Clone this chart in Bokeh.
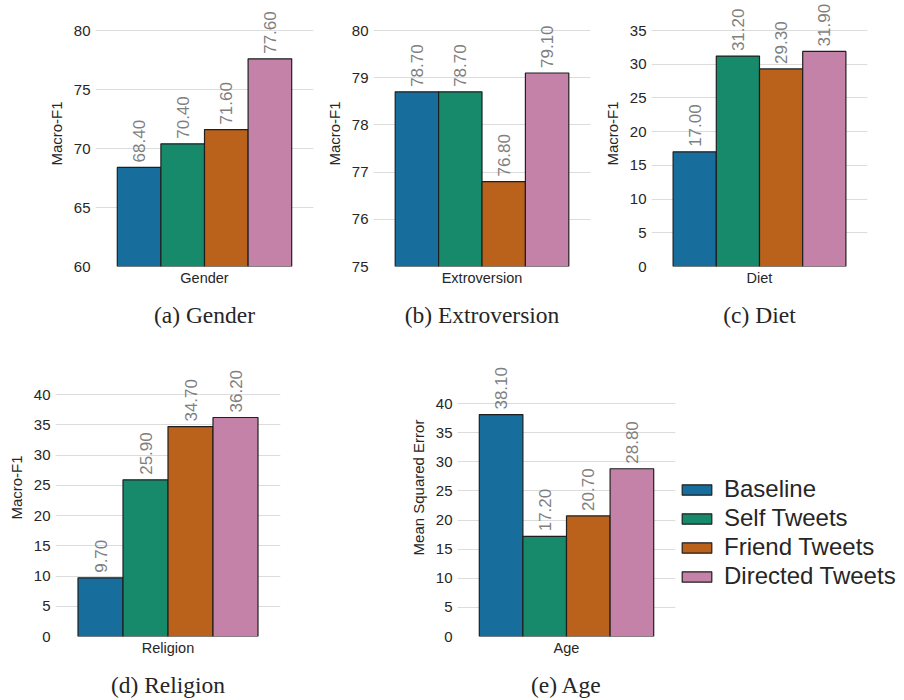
import math
from bokeh.plotting import figure
from bokeh.models import (ColumnDataSource, FactorRange, Range1d, FixedTicker,
                          Legend, LegendItem)
from bokeh.layouts import column, row
from bokeh.transform import dodge
from bokeh.embed import file_html
from bokeh.resources import INLINE

# ---------------- data ----------------
categories = ["Gender", "Extroversion", "Diet", "Religion", "Age"]
captions = ["(a) Gender", "(b) Extroversion", "(c) Diet", "(d) Religion", "(e) Age"]
y_labels = ["Macro-F1", "Macro-F1", "Macro-F1", "Macro-F1", "Mean Squared Error"]
series_names = ["Baseline", "Self Tweets", "Friend Tweets", "Directed Tweets"]
baseline = [68.4, 78.7, 17.0, 9.7, 38.1]
self_tweets = [70.4, 78.7, 31.2, 25.9, 17.2]
friend_tweets = [71.6, 76.8, 29.3, 34.7, 20.7]
directed_tweets = [77.6, 79.1, 31.9, 36.2, 28.8]
y_ticks = [
    [60, 65, 70, 75, 80],
    [75, 76, 77, 78, 79, 80],
    [0, 5, 10, 15, 20, 25, 30, 35],
    [0, 5, 10, 15, 20, 25, 30, 35, 40],
    [0, 5, 10, 15, 20, 25, 30, 35, 40],
]

# ---------------- style ----------------
COLORS = ["#176d9c", "#168a6a", "#ba611b", "#c482a8"]
EDGE = "#1f1f1f"
TEXT = "#262626"
GRID = "#dcdcdc"
SANS = "Liberation Sans"
SERIF = "Liberation Serif"

# width, height, left, right, bottom, gap from frame top to top tick
specs = [
    (322, 338, 95, 9, 72, 30),
    (278, 338, 50, 10, 72, 30),
    (304, 338, 48, 37, 72, 30),
    (300, 362, 55, 20, 64, 56),
    (378, 362, 157, 3, 64, 65),
]


def style_axes(p):
    for ax in (p.xaxis[0], p.yaxis[0]):
        ax.axis_line_color = None
        ax.major_tick_line_color = None
        ax.minor_tick_line_color = None
        ax.major_tick_out = 0
        ax.major_tick_in = 0
        ax.minor_tick_out = 0
        ax.minor_tick_in = 0
        ax.major_label_text_color = TEXT
        ax.major_label_text_font = SANS
        ax.axis_label_text_color = TEXT
        ax.axis_label_text_font_style = "normal"


def make_panel(i):
    W, H, L, R, B, gap = specs[i]
    cat = categories[i]
    vals = [baseline[i], self_tweets[i], friend_tweets[i], directed_tweets[i]]
    ticks = y_ticks[i]
    vb, vt = ticks[0], ticks[-1]
    fh = H - B
    s = (fh - gap) / (vt - vb)
    end = vt + gap / s
    p = figure(x_range=FactorRange(factors=[cat], range_padding=0),
               y_range=Range1d(vb, end), width=W, height=H,
               output_backend="svg", toolbar_location=None,
               min_border_left=L, min_border_right=R, min_border_bottom=B,
               min_border_top=0)
    data = {"cat": [cat]}
    for k in range(4):
        data[f"v{k}"] = [vals[k]]
        data[f"t{k}"] = [f"{vals[k]:.2f}"]
    src = ColumnDataSource(data)
    for k in range(4):
        off = (k - 1.5) * 0.2
        p.vbar(x=dodge("cat", off, range=p.x_range), top=f"v{k}", bottom=vb,
               width=0.2, source=src, fill_color=COLORS[k],
               line_color=EDGE, line_width=1.2)
    for k in range(4):
        off = (k - 1.5) * 0.2
        p.text(x=dodge("cat", off, range=p.x_range), y=f"v{k}", text=f"t{k}",
               source=src, angle=math.pi / 2, text_align="left",
               text_baseline="middle", y_offset=-5, text_color="#7f7f7f",
               text_font_size="17px", text_font={"value": SANS})
    p.outline_line_color = None
    p.xgrid.grid_line_color = None
    p.ygrid.grid_line_color = GRID
    p.ygrid.grid_line_width = 1.2
    p.yaxis.ticker = FixedTicker(ticks=ticks)
    style_axes(p)
    p.yaxis.major_label_text_font_size = "15px"
    p.yaxis.major_label_standoff = 5
    p.yaxis.axis_label = y_labels[i]
    p.yaxis.axis_label_text_font = SANS
    p.yaxis.axis_label_text_font_size = "15px"
    p.yaxis.axis_label_standoff = 6
    p.xaxis.major_label_text_font_size = "14.5px"
    p.xaxis.major_label_standoff = 3
    p.xaxis.axis_label = captions[i]
    p.xaxis.axis_label_text_font = SERIF
    p.xaxis.axis_label_text_font_size = "23.5px"
    p.xaxis.axis_label_standoff = 13
    return p, src


panels = [make_panel(i) for i in range(5)]
src_e = panels[4][1]

# legend panel: hidden copies of the Age bars carry the legend entries
pl = figure(width=226, height=362, output_backend="svg", toolbar_location=None,
            x_range=FactorRange(factors=[categories[4]], range_padding=0),
            y_range=Range1d(0, 1),
            min_border_left=0, min_border_right=0, min_border_top=0,
            min_border_bottom=0)
pl.axis.visible = False
pl.grid.visible = False
pl.outline_line_color = None
items = []
for k in range(4):
    r = pl.vbar(x="cat", top=f"v{k}", width=0.2, source=src_e,
                fill_color=COLORS[k], line_color=EDGE, line_width=1.2,
                visible=False)
    items.append(LegendItem(label=series_names[k], renderers=[r]))
legend = Legend(items=items, location=(0, 46), orientation="vertical",
                label_text_font=SANS, label_text_font_size="24px",
                label_text_color=TEXT, glyph_width=37, glyph_height=13,
                label_standoff=9, spacing=1, padding=0, margin=0,
                border_line_color=None, background_fill_alpha=0,
                inactive_fill_alpha=0)
pl.add_layout(legend, "center")

layout = column(row(panels[0][0], panels[1][0], panels[2][0]),
                row(panels[3][0], panels[4][0], pl))

open("out.html", "w").write(file_html(layout, INLINE))
